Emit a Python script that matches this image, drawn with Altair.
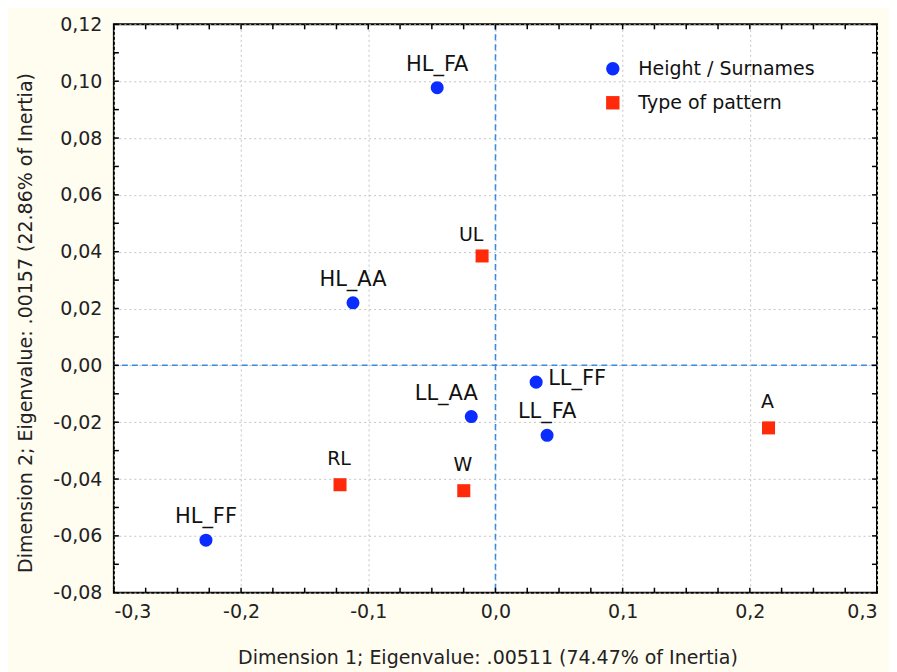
import altair as alt
import pandas as pd

# ---- data ----
names = ["HL_FA", "HL_AA", "HL_FF", "LL_AA", "LL_FF", "LL_FA", "UL", "RL", "W", "A"]
groups = ["Height / Surnames"] * 6 + ["Type of pattern"] * 4
dim1 = [-0.0458, -0.112, -0.2276, -0.019, 0.032, 0.0406, -0.0105, -0.1222, -0.0249, 0.2147]
dim2 = [0.0977, 0.0220, -0.0615, -0.0180, -0.0059, -0.0246, 0.0385, -0.0420, -0.0441, -0.0220]

x_ticks_major = [-0.3, -0.2, -0.1, 0.0, 0.1, 0.2, 0.3]
y_ticks_major = [-0.08, -0.06, -0.04, -0.02, 0.0, 0.02, 0.04, 0.06, 0.08, 0.10, 0.12]
x_ticks_minor = [-0.3, -0.275, -0.25, -0.225, -0.2, -0.175, -0.15, -0.125, -0.1, -0.075, -0.05, -0.025,
                 0.0, 0.025, 0.05, 0.075, 0.1, 0.125, 0.15, 0.175, 0.2, 0.225, 0.25, 0.275, 0.3]
y_ticks_minor = [-0.08, -0.07, -0.06, -0.05, -0.04, -0.03, -0.02, -0.01, 0.0, 0.01, 0.02, 0.03,
                 0.04, 0.05, 0.06, 0.07, 0.08, 0.09, 0.10, 0.11, 0.12]

group_names = ["Height / Surnames", "Type of pattern"]
group_colors = ["#0a2cff", "#ff2a0a"]
group_shapes = ["circle", "square"]

df = pd.DataFrame({"name": names, "group": groups, "d1": dim1, "d2": dim2})
xt = pd.DataFrame({"v": x_ticks_minor})
yt = pd.DataFrame({"v": y_ticks_minor})

W, H = 764, 569
FONT = "DejaVu Sans"

xscale = alt.Scale(domain=[-0.3, 0.3], nice=False, zero=False)
yscale = alt.Scale(domain=[-0.08, 0.12], nice=False, zero=False)

fmt_x = "replace(replace(format(datum.value, '.1f'), '.', ','), '\u2212', '-')"
fmt_y = "replace(replace(format(datum.value, '.2f'), '.', ','), '\u2212', '-')"

xaxis = alt.Axis(values=x_ticks_major, labelExpr=fmt_x, ticks=False, domain=False,
                 grid=True, gridDash=[2, 3], gridColor="#c4c4c4", gridWidth=1,
                 labelFont=FONT, labelFontSize=19, labelColor="#222", labelPadding=10,
                 title="Dimension 1; Eigenvalue: .00511 (74.47% of Inertia)",
                 titleFont=FONT, titleFontSize=19, titleFontWeight="normal", titleColor="#222",
                 titleX=W / 2 - 8, titleY=65, titleBaseline="middle", titleAlign="center")
yaxis = alt.Axis(values=y_ticks_major, labelExpr=fmt_y, ticks=False, domain=False,
                 grid=True, gridDash=[2, 3], gridColor="#c4c4c4", gridWidth=1,
                 labelFont=FONT, labelFontSize=19, labelColor="#222", labelPadding=12,
                 title="Dimension 2; Eigenvalue: .00157 (22.86% of Inertia)",
                 titleFont=FONT, titleFontSize=19, titleFontWeight="normal", titleColor="#222",
                 titleX=-88, titleY=H / 2 + 14, titleAngle=-90, titleBaseline="middle", titleAlign="center")

base = alt.Chart(df)

# zero reference lines
zero_df = pd.DataFrame({"z": [0.0]})
vline = alt.Chart(zero_df).mark_rule(color="#3a8ae0", strokeDash=[6, 4], strokeWidth=1.5).encode(
    x=alt.X("z:Q", scale=xscale, axis=xaxis))
hline = alt.Chart(zero_df).mark_rule(color="#3a8ae0", strokeDash=[6, 4], strokeWidth=1.5).encode(
    y=alt.Y("z:Q", scale=yscale, axis=yaxis))

# inward ticks
tick_style = dict(color="black", strokeWidth=1.5)
xt_bottom = alt.Chart(xt).mark_rule(**tick_style).encode(
    x=alt.X("v:Q", scale=xscale), y=alt.value(H), y2=alt.value(H - 5))
xt_top = alt.Chart(xt).mark_rule(**tick_style).encode(
    x=alt.X("v:Q", scale=xscale), y=alt.value(0), y2=alt.value(5))
yt_left = alt.Chart(yt).mark_rule(**tick_style).encode(
    y=alt.Y("v:Q", scale=yscale), x=alt.value(0), x2=alt.value(5))
yt_right = alt.Chart(yt).mark_rule(**tick_style).encode(
    y=alt.Y("v:Q", scale=yscale), x=alt.value(W), x2=alt.value(W - 5))

legend = alt.Legend(orient="none", legendX=490, legendY=35, title=None,
                    labelFont=FONT, labelFontSize=19, labelColor="#111", labelLimit=0,
                    symbolSize=180, symbolStrokeWidth=0, labelOffset=16, rowPadding=14,
                    padding=0, symbolOpacity=1)

points = base.mark_point(filled=True, opacity=1, size=170).encode(
    x=alt.X("d1:Q", scale=xscale),
    y=alt.Y("d2:Q", scale=yscale),
    color=alt.Color("group:N", scale=alt.Scale(domain=group_names, range=group_colors), legend=legend),
    shape=alt.Shape("group:N", scale=alt.Scale(domain=group_names, range=group_shapes), legend=legend),
)

def labels(sel, dx, dy, size, align="center"):
    return base.transform_filter(
        alt.FieldOneOfPredicate(field="name", oneOf=sel)
    ).mark_text(dx=dx, dy=dy, font=FONT, fontSize=size, align=align, baseline="middle", color="#111").encode(
        x=alt.X("d1:Q", scale=xscale), y=alt.Y("d2:Q", scale=yscale), text="name:N")

lab_above = labels(["HL_FA", "HL_AA", "HL_FF", "LL_FA"], 0, -23, 21)
lab_llaa = labels(["LL_AA"], -25, -23, 21)
lab_llff = labels(["LL_FF"], 12, -3, 21, align="left")
lab_sq = labels(["RL", "W", "A"], -1, -26, 19)
lab_ul = labels(["UL"], -11, -21, 19)

chart = alt.layer(
    vline, hline, xt_bottom, xt_top, yt_left, yt_right,
    points, lab_above, lab_llaa, lab_llff, lab_sq, lab_ul
).properties(
    width=W, height=H,
    autosize=alt.AutoSizeParams(type="none"),
    padding={"left": 106, "top": 16, "right": 12, "bottom": 80},
    background="#fffcf0",
).configure_view(
    stroke="black", strokeWidth=2, fill="white"
)

chart.save("out.html", embed_options={"renderer": "svg", "actions": False})
